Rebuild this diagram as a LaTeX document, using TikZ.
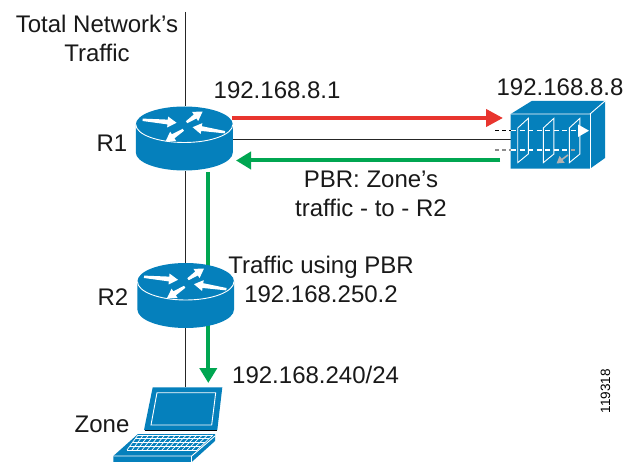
\documentclass[tikz,border=0pt]{standalone}
\usepackage{fontspec}
\setmainfont{Liberation Sans}
\usetikzlibrary{arrows.meta}
\definecolor{ciscoblue}{HTML}{0580BC}
\definecolor{pbrgreen}{HTML}{00A651}
\definecolor{pbrred}{HTML}{E8352E}
\tikzset{
  lbl/.style={font=\fontsize{24}{28.5}\selectfont,inner sep=0pt,align=center,text=black!90},
  anchorbox/.style={inner sep=0pt,outer sep=0pt,draw=none},
  thinline/.style={draw=black!85,line width=1.3pt},
  redarrow/.style={draw=pbrred,line width=4pt,-{Triangle[width=17pt,length=17pt]}},
  greenarrow/.style={draw=pbrgreen,line width=4pt,-{Triangle[width=17pt,length=15pt]}},
  greenline/.style={draw=pbrgreen,line width=4pt},
  whiteline/.style={draw=white,line width=0.9pt},
}
\newcommand{\flowarrow}[4]{%
  \pgfmathsetmacro{\fang}{atan2(-(#4-(#2)),#3-(#1))}%
  \pgfmathsetmacro{\flen}{veclen(#4-(#2),#3-(#1))}%
  \fill[white,shift={(#1,#2)},rotate=\fang]
    (0,-1.2) -- (\flen-9,-2.4) -- (\flen-9,-5.5) -- (\flen,0) -- (\flen-9,5.5) -- (\flen-9,2.4) -- (0,1.2) -- cycle;}
\newcommand{\routershape}[4]{% cx cy rx ry
  \begin{scope}[shift={(#1,#2)}]
    \fill[ciscoblue] (-#3,0) -- (-#3,28) arc[start angle=180,end angle=0,x radius=#3,y radius=#4]
      -- (#3,0) arc[start angle=0,end angle=-180,x radius=#3,y radius=#4] -- cycle;
    \draw[whiteline] (-#3,0) arc[start angle=180,end angle=0,x radius=#3,y radius=#4];
    \flowarrow{-41.7}{-4.7}{-7.7}{-1.7}
    \flowarrow{2.3}{-2.3}{18.3}{-13}
    \flowarrow{40.7}{7.7}{8.3}{2.7}
    \flowarrow{-1}{5.3}{-18.7}{16.7}
  \end{scope}}
\begin{document}
\begin{tikzpicture}[x=1pt,y=-1pt]
\useasboundingbox (0,0) rectangle (623,462);
\fill[white] (0,0) rectangle (623,462);

% anchors
\node[anchorbox,minimum width=97pt,minimum height=65pt] (r1) at (185.7,139) {};
\node[anchorbox,minimum width=97pt,minimum height=65pt] (r2) at (185.7,295) {};
\node[anchorbox,minimum width=80pt,minimum height=55pt] (fw) at (550.5,141.5) {};
\node[anchorbox,minimum width=70pt,minimum height=5pt] (zone) at (185.7,389.5) {};
\coordinate (feed) at (185.7,12);
\coordinate (r1a) at (208.3,172);
\coordinate (r2a) at (208.3,270);
\coordinate (r2b) at (208.3,322);
\coordinate (zonea) at (208.3,383);
\coordinate (r1red) at (232,118);
\coordinate (fwred) at (503,118);
\coordinate (r1blk) at (233,139.3);
\coordinate (fwblk) at (510.7,139.3);
\coordinate (fwgrn) at (500,160.5);
\coordinate (r1grn) at (236,160.5);

% connectors
\draw[thinline] (feed) -- (r1.north);
\draw[thinline] (r1.south) -- (r2.north);
\draw[thinline] (r2.south) -- (zone.north);
\draw[thinline] (r1blk) -- (fwblk);
\draw[greenline] (r1a) -- (r2a);
\draw[greenarrow] (r2b) -- (zonea);
\draw[redarrow] (r1red) -- (fwred);
\draw[greenarrow] (fwgrn) -- (r1grn);

% routers
\routershape{184.3}{124.5}{48.5}{18}
\routershape{185.7}{281.5}{48.3}{18.5}

% firewall
\fill[ciscoblue] (510.7,114) -- (531.7,101) -- (605,101) -- (605,158) -- (590,168.7) -- (510.7,168.7) -- cycle;
\draw[whiteline] (510.7,114) -- (590,114) -- (605,101);
\draw[whiteline] (590,114) -- (590,168.7);
\foreach \px in {517.7,543.3,569.3}{
  \draw[whiteline] (\px,128) -- (\px+10.6,118.3) -- (\px+10.6,154) -- (\px,162.7) -- cycle;
}
\draw[black,line width=1.3pt,dash pattern=on 4pt off 3pt] (495,130.7) -- (510.7,130.7);
\draw[white,line width=1.3pt,dash pattern=on 5pt off 3.5pt] (511,130.7) -- (578,130.7);
\fill[white] (578,124.5) -- (589,130.7) -- (578,137) -- cycle;
\draw[black!45,line width=1.3pt,dash pattern=on 4pt off 3pt] (495,150) -- (510.7,150);
\draw[white,line width=1.3pt,dash pattern=on 5pt off 3.5pt] (511,150) -- (570,150);
\draw[black!35,line width=1.3pt] (571,150) -- (575,150);
\draw[black!30,line width=1.6pt,-{Triangle[width=8pt,length=7pt]}] (568,155) -- (556.5,163.5);

% laptop
\fill[ciscoblue] (152.7,387.3) -- (222.3,387.3) -- (217.3,430) -- (144,430) -- cycle;
\draw[whiteline] (157,392.7) -- (215.7,392.7) -- (211.7,425) -- (151,425) -- cycle;
\draw[black,line width=1.1pt] (145,430.5) -- (217,430.5);
\fill[ciscoblue] (138,434) -- (215,434) -- (215,441) -- (191.7,462) -- (113.3,462) -- (113.3,456) -- cycle;
\draw[whiteline] (113.3,456) -- (191.7,456) -- (215,436);
\draw[whiteline] (191.7,456) -- (191.7,462);
\foreach \t in {0,0.25,0.5,0.75,1}{
  \draw[white,line width=0.7pt] ({138-11*\t},{435+15*\t}) -- ({213-16*\t},{435+15*\t});
}
\foreach \t in {0,...,14}{
  \draw[white,line width=0.7pt] ({138+\t*75/14},435) -- ({127+\t*70/14},450);
}

% labels
\node[lbl] (t1) at (97,38.5) {Total Network’s\\Traffic};
\node[lbl,anchor=west] (t2) at (213.5,90) {192.168.8.1};
\node[lbl] (t3) at (112,143) {R1};
\node[lbl] (t4) at (560,87.5) {192.168.8.8};
\node[lbl] (t5) at (371,194) {PBR: Zone’s\\traffic - to - R2};
\node[lbl] (t6) at (321,279.5) {Traffic using PBR\\192.168.250.2};
\node[lbl] (t7) at (113,297) {R2};
\node[lbl,anchor=west] (t8) at (232,374.5) {192.168.240/24};
\node[lbl] (t9) at (102,424.5) {Zone};
\node[font=\fontsize{13.5}{14}\selectfont,rotate=90,inner sep=0pt] (t10) at (605.5,391) {119318};
\end{tikzpicture}
\end{document}
